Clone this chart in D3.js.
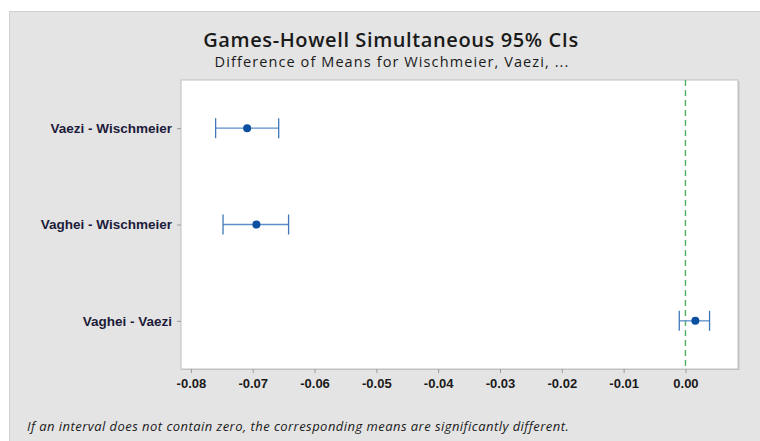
<!DOCTYPE html>
<html>
<head>
<meta charset="utf-8">
<script src="https://cdn.jsdelivr.net/npm/d3@7"></script>
<style>
  body { margin: 0; background: #fff; }
  svg { display: block; font-family: "Open Sans", "Noto Sans", sans-serif; }
</style>
</head>
<body>
<svg id="chart" width="760" height="441"></svg>
<script>
// comparisons, top to bottom
const comparisons = ['Vaezi - Wischmeier', 'Vaghei - Wischmeier', 'Vaghei - Vaezi'];
const lower = [-0.0760, -0.0748, -0.0010];
const estimate = [-0.0709, -0.0694, 0.0016];
const upper = [-0.0658, -0.0642, 0.0039];
const xTicks = [-0.08, -0.07, -0.06, -0.05, -0.04, -0.03, -0.02, -0.01, 0.00];

const title = 'Games-Howell Simultaneous 95% CIs';
const subtitle = 'Difference of Means for Wischmeier, Vaezi, ...';
const footnote = 'If an interval does not contain zero, the corresponding means are significantly different.';

const svg = d3.select('#chart');
const plot = {left: 181, right: 738, top: 80, bottom: 369};

// grey panel behind everything
svg.append('rect')
    .attr('x', 9.5).attr('y', 11.5)
    .attr('width', 760).attr('height', 440)
    .attr('fill', '#e4e4e4')
    .attr('stroke', '#cfcfcf');

svg.append('text')
    .attr('x', 391).attr('y', 47)
    .attr('text-anchor', 'middle')
    .attr('font-size', 20).attr('font-weight', 600)
    .attr('letter-spacing', 0.6)
    .attr('fill', '#1a1a1a')
    .text(title);

svg.append('text')
    .attr('x', 392).attr('y', 67)
    .attr('text-anchor', 'middle')
    .attr('font-size', 14.5)
    .attr('letter-spacing', 1.1)
    .attr('fill', '#1a1a1a')
    .text(subtitle);

var xs = d3.scaleLinear().domain([-0.0816, 0.0085]).range([plot.left, plot.right]);
var ys = d3.scalePoint().domain(comparisons).range([plot.top, plot.bottom]).padding(0.5);

// plot area with a slight shadow on the right/bottom
svg.append('rect')
    .attr('x', plot.left + 1.5).attr('y', plot.top + 1)
    .attr('width', plot.right - plot.left).attr('height', plot.bottom - plot.top)
    .attr('fill', '#c4c4c4');
svg.append('rect')
    .attr('x', plot.left).attr('y', plot.top)
    .attr('width', plot.right - plot.left).attr('height', plot.bottom - plot.top)
    .attr('fill', '#fff')
    .attr('stroke', '#c0c0c0');

// zero reference line
svg.append('line')
    .attr('x1', xs(0)).attr('x2', xs(0))
    .attr('y1', plot.top).attr('y2', plot.bottom)
    .attr('stroke', '#4fb060').attr('stroke-width', 1.4)
    .attr('stroke-dasharray', '6,4');

// x axis
var xAxis = svg.append('g')
    .attr('transform', 'translate(0,' + plot.bottom + ')')
    .call(d3.axisBottom(xs).tickValues(xTicks).tickFormat(d3.format('.2f')).tickSize(4).tickSizeOuter(0));
xAxis.select('.domain').remove();
xAxis.selectAll('line').attr('stroke', '#9a9a9a');
xAxis.selectAll('text')
    .attr('font-size', 13).attr('font-weight', 600)
    .attr('fill', '#1a1a1a').attr('dy', '0.9em')
    .text(function(d) { return d3.format('.2f')(d).replace('−', '-'); });

// y axis
var yAxis = svg.append('g')
    .attr('transform', 'translate(' + plot.left + ',0)')
    .call(d3.axisLeft(ys).tickSize(4).tickPadding(5).tickSizeOuter(0));
yAxis.select('.domain').remove();
yAxis.selectAll('line').attr('stroke', '#9a9a9a');
yAxis.selectAll('text')
    .attr('font-size', 13.5).attr('font-weight', 600)
    .attr('fill', '#1c1c3a');

// intervals
var g = svg.append('g').selectAll('g').data(comparisons).enter().append('g');
g.append('line')
    .attr('x1', function(d, i) { return xs(lower[i]); })
    .attr('x2', function(d, i) { return xs(upper[i]); })
    .attr('y1', function(d) { return ys(d); })
    .attr('y2', function(d) { return ys(d); })
    .attr('stroke', '#5b8fca').attr('stroke-width', 1.3);
[lower, upper].forEach(function(arr) {
    g.append('line')
        .attr('x1', function(d, i) { return xs(arr[i]); })
        .attr('x2', function(d, i) { return xs(arr[i]); })
        .attr('y1', function(d) { return ys(d) - 10; })
        .attr('y2', function(d) { return ys(d) + 10; })
        .attr('stroke', '#3f76b8').attr('stroke-width', 1.3);
});
g.append('circle')
    .attr('cx', function(d, i) { return xs(estimate[i]); })
    .attr('cy', function(d) { return ys(d); })
    .attr('r', 4)
    .attr('fill', '#0b4fa0');

svg.append('text')
    .attr('x', 27).attr('y', 431)
    .attr('font-size', 13).attr('font-style', 'italic')
    .attr('letter-spacing', 0.45)
    .attr('fill', '#1a1a1a')
    .text(footnote);
</script>
</body>
</html>
